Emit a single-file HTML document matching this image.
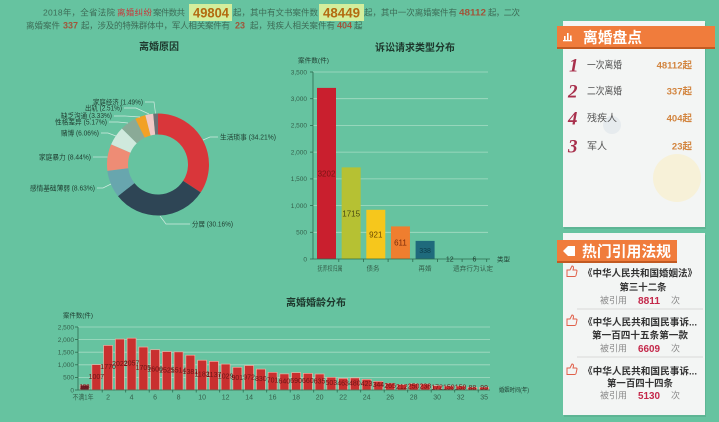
<!DOCTYPE html>
<html>
<head>
<meta charset="utf-8">
<style>
html,body{margin:0;padding:0;background:#66c3a0;}
svg{display:block;}
svg text{font-family:"Liberation Sans","Noto Sans CJK SC",sans-serif;}
.hd{font-size:8.5px;fill:#3d6d57;}
.tk{font-size:6.5px;fill:#35614c;}
.pl{font-size:7px;fill:#1f3d30;}
.bl{font-size:7px;fill:#6b1515;}
.ttl{font-size:10px;font-weight:bold;fill:#1d372c;}
.c2{font-size:9.5px;font-weight:bold;fill:#333;}
.cite{font-size:9px;fill:#8a8a8a;}
</style>
</head>
<body>
<svg width="719" height="422" viewBox="0 0 719 422" xmlns="http://www.w3.org/2000/svg">
<rect x="0" y="0" width="719" height="422" fill="#66c3a0"/>

<!-- Header text -->
<rect x="189" y="4" width="43" height="17" fill="#d3ee9c"/>
<rect x="319" y="4" width="45" height="17" fill="#d3ee9c"/>
<text class="hd" x="43" y="15.5" textLength="72" lengthAdjust="spacing">2018年，全省法院</text>
<text class="hd" x="117" y="15.5" textLength="35" lengthAdjust="spacing" style="fill:#c8383a">离婚纠纷</text>
<text class="hd" x="153" y="15.5" textLength="32" lengthAdjust="spacing">案件数共</text>
<text x="193" y="17.5" textLength="36" lengthAdjust="spacingAndGlyphs" style="font-size:14px;font-weight:bold;fill:#b36a10">49804</text>
<text class="hd" x="233" y="15.5" textLength="85" lengthAdjust="spacing">起，其中有文书案件数</text>
<text x="323" y="17.5" textLength="37" lengthAdjust="spacingAndGlyphs" style="font-size:14px;font-weight:bold;fill:#b36a10">48449</text>
<text class="hd" x="364" y="15.5" textLength="93" lengthAdjust="spacing">起，其中一次离婚案件有</text>
<text x="459" y="15.5" textLength="27" lengthAdjust="spacingAndGlyphs" style="font-size:9px;font-weight:bold;fill:#a0553a">48112</text>
<text class="hd" x="488" y="15.5" textLength="32" lengthAdjust="spacing">起，二次</text>

<text class="hd" x="26" y="28.5" textLength="34" lengthAdjust="spacing">离婚案件</text>
<text x="63" y="28.5" textLength="15" lengthAdjust="spacingAndGlyphs" style="font-size:9px;font-weight:bold;fill:#a0553a">337</text>
<text class="hd" x="81" y="28.5" textLength="149" lengthAdjust="spacing">起，涉及的特殊群体中，军人相关案件有</text>
<text x="235" y="28.5" textLength="10" lengthAdjust="spacingAndGlyphs" style="font-size:9px;font-weight:bold;fill:#a0553a">23</text>
<text class="hd" x="250" y="28.5" textLength="85" lengthAdjust="spacing">起，残疾人相关案件有</text>
<text x="337" y="28.5" textLength="15" lengthAdjust="spacingAndGlyphs" style="font-size:9px;font-weight:bold;fill:#a0553a">404</text>
<text class="hd" x="354" y="28.5" textLength="12" lengthAdjust="spacing">起。</text>

<!-- Pie chart -->
<text class="ttl" x="159" y="50" text-anchor="middle">离婚原因</text>
<g>
<path d="M158,113.5 A51,51 0 0 1 200.69,192.40 L183.11,180.91 A30,30 0 0 0 158,134.5 Z" fill="#d9363a"/>
<path d="M200.69,192.40 A51,51 0 0 1 117.96,196.09 L134.45,183.08 A30,30 0 0 0 183.11,180.91 Z" fill="#2e4555"/>
<path d="M117.96,196.09 A51,51 0 0 1 107.40,170.89 L128.24,168.26 A30,30 0 0 0 134.45,183.08 Z" fill="#68a6ae"/>
<path d="M107.40,170.89 A51,51 0 0 1 111.12,144.43 L130.42,152.69 A30,30 0 0 0 128.24,168.26 Z" fill="#ee8c75"/>
<path d="M111.12,144.43 A51,51 0 0 1 121.94,128.44 L136.79,143.29 A30,30 0 0 0 130.42,152.69 Z" fill="#cfe9dd"/>
<path d="M121.94,128.44 A51,51 0 0 1 135.33,118.81 L144.67,137.63 A30,30 0 0 0 136.79,143.29 Z" fill="#8aaa97"/>
<path d="M135.33,118.81 A51,51 0 0 1 145.32,115.10 L150.54,135.44 A30,30 0 0 0 144.67,137.63 Z" fill="#f2a126"/>
<path d="M145.32,115.10 A51,51 0 0 1 153.24,113.72 L155.20,134.63 A30,30 0 0 0 150.54,135.44 Z" fill="#f2c9c6"/>
<path d="M153.24,113.72 A51,51 0 0 1 158,113.5 L158,134.5 A30,30 0 0 0 155.20,134.63 Z" fill="#6e7074"/>
</g>
<g fill="none" stroke="#cfeadf" stroke-width="0.7">
<polyline points="203,140 210,137 218,137"/>
<polyline points="160,216 166,224 190,224"/>
<polyline points="111,184 103,188 97,188"/>
<polyline points="107.5,157 100,157 93,157"/>
<polyline points="116,136 108,133 101,133"/>
<polyline points="128,123 118,122 109,122"/>
<polyline points="140,117 125,116 114,116"/>
<polyline points="149,114 136,108 124,108"/>
<polyline points="155.5,113.5 154,102 145,102"/>
</g>
<text class="pl" x="220" y="139.5" textLength="56" lengthAdjust="spacingAndGlyphs">生活琐事 (34.21%)</text>
<text class="pl" x="192" y="226.5" textLength="41" lengthAdjust="spacingAndGlyphs">分居 (30.16%)</text>
<text class="pl" x="30" y="190.5" textLength="65" lengthAdjust="spacingAndGlyphs">感情基础薄弱 (8.63%)</text>
<text class="pl" x="39" y="159.5" textLength="52" lengthAdjust="spacingAndGlyphs">家庭暴力 (8.44%)</text>
<text class="pl" x="61" y="135.5" textLength="38" lengthAdjust="spacingAndGlyphs">赌博 (6.06%)</text>
<text class="pl" x="55" y="124.5" textLength="52" lengthAdjust="spacingAndGlyphs">性格差异 (5.17%)</text>
<text class="pl" x="61" y="118" textLength="51" lengthAdjust="spacingAndGlyphs">缺乏沟通 (3.33%)</text>
<text class="pl" x="85" y="110.5" textLength="37" lengthAdjust="spacingAndGlyphs">出轨 (2.51%)</text>
<text class="pl" x="93" y="104.5" textLength="50" lengthAdjust="spacingAndGlyphs">家庭经济 (1.49%)</text>

<!-- Top bar chart -->
<text class="ttl" x="415" y="51" text-anchor="middle">诉讼请求类型分布</text>
<text class="tk" x="298" y="62.5" textLength="31" lengthAdjust="spacingAndGlyphs" style="fill:#1f3d30">案件数(件)</text>
<g stroke="#a6dcc4" stroke-width="0.8">
<line x1="313" y1="72" x2="488" y2="72"/>
<line x1="313" y1="98.7" x2="488" y2="98.7"/>
<line x1="313" y1="125.4" x2="488" y2="125.4"/>
<line x1="313" y1="152.1" x2="488" y2="152.1"/>
<line x1="313" y1="178.9" x2="488" y2="178.9"/>
<line x1="313" y1="205.6" x2="488" y2="205.6"/>
<line x1="313" y1="232.3" x2="488" y2="232.3"/>
</g>
<g class="tk" text-anchor="end">
<text x="307" y="74.3">3,500</text>
<text x="307" y="101">3,000</text>
<text x="307" y="127.7">2,500</text>
<text x="307" y="154.4">2,000</text>
<text x="307" y="181.2">1,500</text>
<text x="307" y="207.9">1,000</text>
<text x="307" y="234.6">500</text>
<text x="307" y="261.3">0</text>
</g>
<rect x="317" y="87.9" width="19" height="171.1" fill="#c91f2e"/>
<rect x="341.65" y="167.4" width="19" height="91.6" fill="#b6c133"/>
<rect x="366.3" y="209.8" width="19" height="49.2" fill="#f6c71c"/>
<rect x="390.95" y="226.4" width="19" height="32.6" fill="#ef7e2f"/>
<rect x="415.6" y="240.9" width="19" height="18.1" fill="#1f6a7c"/>
<g stroke="#2c6a4e" stroke-width="0.8">
<line x1="313" y1="72" x2="313" y2="259"/>
<line x1="313" y1="259" x2="490" y2="259"/>
<line x1="310" y1="72" x2="313" y2="72"/>
<line x1="310" y1="98.7" x2="313" y2="98.7"/>
<line x1="310" y1="125.4" x2="313" y2="125.4"/>
<line x1="310" y1="152.1" x2="313" y2="152.1"/>
<line x1="310" y1="178.9" x2="313" y2="178.9"/>
<line x1="310" y1="205.6" x2="313" y2="205.6"/>
<line x1="310" y1="232.3" x2="313" y2="232.3"/>
<line x1="310" y1="259" x2="313" y2="259"/>
<line x1="338.8" y1="259" x2="338.8" y2="262"/>
<line x1="363.5" y1="259" x2="363.5" y2="262"/>
<line x1="388.1" y1="259" x2="388.1" y2="262"/>
<line x1="412.8" y1="259" x2="412.8" y2="262"/>
<line x1="437.4" y1="259" x2="437.4" y2="262"/>
<line x1="462.1" y1="259" x2="462.1" y2="262"/>
<line x1="486.7" y1="259" x2="486.7" y2="262"/>
</g>
<g style="font-size:8px" text-anchor="middle">
<text x="326.5" y="176.5" fill="#7a1414">3202</text>
<text x="351.15" y="216.5" fill="#4a4a12">1715</text>
<text x="375.8" y="237.5" fill="#6a4a00">921</text>
<text x="400.45" y="245.5" fill="#7a2a08">611</text>
<text x="425.1" y="253" fill="#0b3a48" style="font-size:7px">338</text>
<text x="449.75" y="261.5" fill="#1f3d30" style="font-size:7px">12</text>
<text x="474.4" y="261.5" fill="#1f3d30" style="font-size:7px">6</text>
</g>
<g class="tk" text-anchor="middle">
<text x="330" y="270.5" textLength="25" lengthAdjust="spacingAndGlyphs">抚养权归属</text>
<text x="373" y="270.5">债务</text>
<text x="425" y="270.5">再婚</text>
<text x="473" y="270.5" textLength="40" lengthAdjust="spacingAndGlyphs">遗弃行为认定</text>
</g>
<text class="tk" x="497" y="261.5" style="fill:#1f3d30">类型</text>

<!-- Bottom bar chart -->
<text class="ttl" x="286" y="306">离婚婚龄分布</text>
<text class="tk" x="63" y="317.5" textLength="30" lengthAdjust="spacingAndGlyphs" style="fill:#1f3d30">案件数(件)</text>
<g stroke="#a6dcc4" stroke-width="0.8">
<line x1="78" y1="327" x2="490" y2="327"/>
<line x1="78" y1="339.6" x2="490" y2="339.6"/>
<line x1="78" y1="352.2" x2="490" y2="352.2"/>
<line x1="78" y1="364.8" x2="490" y2="364.8"/>
<line x1="78" y1="377.4" x2="490" y2="377.4"/>
</g>
<g class="tk" text-anchor="end">
<text x="74" y="329.3">2,500</text>
<text x="74" y="341.9">2,000</text>
<text x="74" y="354.5">1,500</text>
<text x="74" y="367.1">1,000</text>
<text x="74" y="379.7">500</text>
<text x="74" y="392.3">0</text>
</g>
<g fill="#c9302f" stroke="#efb0a2" stroke-width="0.7">
<rect x="80.1" y="385.01" width="9" height="4.99" fill="#6e1e2c"/>
<rect x="91.85" y="364.62" width="9" height="25.38"/>
<rect x="103.6" y="345.40" width="9" height="44.60"/>
<rect x="115.35" y="339.05" width="9" height="50.95"/>
<rect x="127.1" y="338.16" width="9" height="51.84"/>
<rect x="138.85" y="347.03" width="9" height="42.97"/>
<rect x="150.6" y="349.68" width="9" height="40.32"/>
<rect x="162.35" y="351.57" width="9" height="38.43"/>
<rect x="174.1" y="351.85" width="9" height="38.15"/>
<rect x="185.85" y="355.20" width="9" height="34.80"/>
<rect x="197.6" y="360.21" width="9" height="29.79"/>
<rect x="209.35" y="361.35" width="9" height="28.65"/>
<rect x="221.1" y="364.07" width="9" height="25.93"/>
<rect x="232.85" y="367.29" width="9" height="22.71"/>
<rect x="244.6" y="365.51" width="9" height="24.49"/>
<rect x="256.35" y="369.08" width="9" height="20.92"/>
<rect x="268.1" y="372.33" width="9" height="17.67"/>
<rect x="279.85" y="373.87" width="9" height="16.13"/>
<rect x="291.6" y="372.61" width="9" height="17.39"/>
<rect x="303.35" y="373.37" width="9" height="16.63"/>
<rect x="315.1" y="374.00" width="9" height="16.00"/>
<rect x="326.85" y="377.32" width="9" height="12.68"/>
<rect x="338.6" y="378.33" width="9" height="11.67"/>
<rect x="350.35" y="377.90" width="9" height="12.10"/>
<rect x="362.1" y="379.34" width="9" height="10.66"/>
<rect x="373.85" y="381.33" width="9" height="8.67"/>
<rect x="385.6" y="383.32" width="9" height="6.68"/>
<rect x="397.35" y="384.66" width="9" height="5.34"/>
<rect x="409.1" y="383.70" width="9" height="6.30"/>
<rect x="420.85" y="384.00" width="9" height="6.00"/>
<rect x="432.6" y="385.67" width="9" height="4.33"/>
<rect x="444.35" y="385.99" width="9" height="4.01"/>
<rect x="456.1" y="385.99" width="9" height="4.01"/>
<rect x="467.85" y="387.33" width="9" height="2.67"/>
<rect x="479.6" y="387.33" width="9" height="2.67"/>
</g>
<g class="bl" text-anchor="middle" dominant-baseline="central">
<text x="84.6" y="387.5" style="font-size:6px">198</text>
<text x="96.35" y="377.3">1007</text>
<text x="108.1" y="367.7">1770</text>
<text x="119.85" y="364.5">2022</text>
<text x="131.6" y="364.1">2057</text>
<text x="143.35" y="368.5">1705</text>
<text x="155.1" y="369.8">1600</text>
<text x="166.85" y="370.8">1525</text>
<text x="178.6" y="370.9">1514</text>
<text x="190.35" y="372.6">1381</text>
<text x="202.1" y="375.1">1182</text>
<text x="213.85" y="375.7">1137</text>
<text x="225.6" y="377">1029</text>
<text x="237.35" y="378.6">901</text>
<text x="249.1" y="377.8">972</text>
<text x="260.85" y="379.5">830</text>
<text x="272.6" y="381.2">701</text>
<text x="284.35" y="381.9">640</text>
<text x="296.1" y="381.3">690</text>
<text x="307.85" y="381.7">660</text>
<text x="319.6" y="382">635</text>
<text x="331.35" y="383.7">503</text>
<text x="343.1" y="384.2">463</text>
<text x="354.85" y="384">480</text>
<text x="366.6" y="384.7">423</text>
<text x="378.35" y="385.7">344</text>
<text x="390.1" y="386.7">265</text>
<text x="401.85" y="387.3">212</text>
<text x="413.6" y="386.9">250</text>
<text x="425.35" y="387">238</text>
<text x="437.1" y="387.8">172</text>
<text x="448.85" y="388">159</text>
<text x="460.6" y="388">159</text>
<text x="472.35" y="388.7">88</text>
<text x="484.1" y="388.7">99</text>
</g>
<g stroke="#2c6a4e" stroke-width="0.8">
<line x1="78" y1="327" x2="78" y2="390"/>
<line x1="78" y1="390" x2="490" y2="390"/>
<line x1="75" y1="327" x2="78" y2="327"/>
<line x1="75" y1="339.6" x2="78" y2="339.6"/>
<line x1="75" y1="352.2" x2="78" y2="352.2"/>
<line x1="75" y1="364.8" x2="78" y2="364.8"/>
<line x1="75" y1="377.4" x2="78" y2="377.4"/>
<line x1="75" y1="390" x2="78" y2="390"/>
<line x1="102.2" y1="390" x2="102.2" y2="392.5"/>
<line x1="125.7" y1="390" x2="125.7" y2="392.5"/>
<line x1="149.2" y1="390" x2="149.2" y2="392.5"/>
<line x1="172.7" y1="390" x2="172.7" y2="392.5"/>
<line x1="196.2" y1="390" x2="196.2" y2="392.5"/>
<line x1="219.7" y1="390" x2="219.7" y2="392.5"/>
<line x1="243.2" y1="390" x2="243.2" y2="392.5"/>
<line x1="266.7" y1="390" x2="266.7" y2="392.5"/>
<line x1="290.2" y1="390" x2="290.2" y2="392.5"/>
<line x1="313.7" y1="390" x2="313.7" y2="392.5"/>
<line x1="337.2" y1="390" x2="337.2" y2="392.5"/>
<line x1="360.7" y1="390" x2="360.7" y2="392.5"/>
<line x1="384.2" y1="390" x2="384.2" y2="392.5"/>
<line x1="407.7" y1="390" x2="407.7" y2="392.5"/>
<line x1="431.2" y1="390" x2="431.2" y2="392.5"/>
<line x1="454.7" y1="390" x2="454.7" y2="392.5"/>
<line x1="478.2" y1="390" x2="478.2" y2="392.5"/>
</g>
<g class="tk" text-anchor="middle" style="font-size:7px">
<text x="83" y="399.5" textLength="21" lengthAdjust="spacingAndGlyphs">不满1年</text>
<text x="108.1" y="399.5">2</text>
<text x="131.6" y="399.5">4</text>
<text x="155.1" y="399.5">6</text>
<text x="178.6" y="399.5">8</text>
<text x="202.1" y="399.5">10</text>
<text x="225.6" y="399.5">12</text>
<text x="249.1" y="399.5">14</text>
<text x="272.6" y="399.5">16</text>
<text x="296.1" y="399.5">18</text>
<text x="319.6" y="399.5">20</text>
<text x="343.1" y="399.5">22</text>
<text x="366.6" y="399.5">24</text>
<text x="390.1" y="399.5">26</text>
<text x="413.6" y="399.5">28</text>
<text x="437.1" y="399.5">30</text>
<text x="460.6" y="399.5">32</text>
<text x="484.1" y="399.5">35</text>
</g>
<text class="tk" x="499" y="392" textLength="30" lengthAdjust="spacingAndGlyphs" style="fill:#1f3d30;font-size:6px">婚姻时间(年)</text>

<!-- Right card 1 -->
<rect x="564" y="23" width="142" height="206" fill="#4d9c7d" opacity="0.35"/>
<rect x="563" y="21" width="142" height="206" fill="#f3f5f4"/>
<circle cx="677" cy="178" r="24" fill="#f7f1d8"/>
<circle cx="612" cy="125" r="9" fill="#e6ebee"/>
<rect x="557" y="27" width="158" height="22" fill="#c25a22"/>
<rect x="557" y="26" width="158" height="21" fill="#f07c3c"/>
<g fill="#ffffff">
<rect x="563" y="40" width="9" height="1.3"/>
<rect x="564" y="36" width="1.6" height="4"/>
<rect x="567" y="33" width="1.6" height="7"/>
<rect x="570" y="35.5" width="1.6" height="4.5"/>
</g>
<text x="583" y="42.5" textLength="59" lengthAdjust="spacingAndGlyphs" style="font-size:15px;font-weight:bold;fill:#ffffff">离婚盘点</text>
<g style="font-family:'Liberation Serif',serif;font-style:italic;font-weight:bold;font-size:19px;fill:#a8304c">
<text x="569" y="71.5" style="font-family:'Liberation Serif',serif">1</text>
<text x="568" y="97.5" style="font-family:'Liberation Serif',serif">2</text>
<text x="568" y="124.5" style="font-family:'Liberation Serif',serif">4</text>
<text x="568" y="152.5" style="font-family:'Liberation Serif',serif">3</text>
</g>
<g style="font-size:10px;fill:#555">
<text x="587" y="68.5" textLength="35" lengthAdjust="spacingAndGlyphs">一次离婚</text>
<text x="587" y="94.5" textLength="35" lengthAdjust="spacingAndGlyphs">二次离婚</text>
<text x="587" y="121.5">残疾人</text>
<text x="587" y="149.5">军人</text>
</g>
<g style="font-size:9.5px;font-weight:bold;fill:#d2843e" text-anchor="end">
<text x="692" y="68.5">48112起</text>
<text x="692" y="94.5">337起</text>
<text x="692" y="121.5">404起</text>
<text x="692" y="149.5">23起</text>
</g>

<!-- Right card 2 -->
<rect x="564" y="235" width="142" height="182" fill="#4d9c7d" opacity="0.35"/>
<rect x="563" y="233" width="142" height="182" fill="#f3f5f4"/>
<rect x="557" y="241" width="120" height="22" fill="#c25a22"/>
<rect x="557" y="240" width="120" height="21" fill="#f07c3c"/>
<path d="M563,251 L568,246 L575,246 L575,256 L568,256 Z" fill="#ffffff"/>
<text x="582" y="256.5" textLength="89" lengthAdjust="spacingAndGlyphs" style="font-size:15px;font-weight:bold;fill:#ffffff">热门引用法规</text>

<g fill="none" stroke="#e0604a" stroke-width="1">
<path d="M567,270 h3 l2,-4 q1.5,0 1.5,2 l-0.5,2 h3 q1,0 1,1 l-1,4.5 q-0.3,1 -1.3,1 h-4.7 l-3,0 z"/>
<path d="M567,319 h3 l2,-4 q1.5,0 1.5,2 l-0.5,2 h3 q1,0 1,1 l-1,4.5 q-0.3,1 -1.3,1 h-4.7 l-3,0 z"/>
<path d="M567,368 h3 l2,-4 q1.5,0 1.5,2 l-0.5,2 h3 q1,0 1,1 l-1,4.5 q-0.3,1 -1.3,1 h-4.7 l-3,0 z"/>
</g>

<text class="c2" x="583" y="276.5" textLength="114" lengthAdjust="spacingAndGlyphs">《中华人民共和国婚姻法》</text>
<text class="c2" x="643" y="290.5" text-anchor="middle" textLength="47" lengthAdjust="spacingAndGlyphs">第三十二条</text>
<text class="cite" x="600" y="303.5" textLength="27" lengthAdjust="spacingAndGlyphs">被引用</text>
<text x="638" y="303.8" textLength="22" lengthAdjust="spacingAndGlyphs" style="font-size:10px;font-weight:bold;fill:#c4284a">8811</text>
<text class="cite" x="671" y="303.5">次</text>
<line x1="577" y1="309" x2="703" y2="309" stroke="#cfcfcf" stroke-width="0.8"/>

<text class="c2" x="583" y="325.5" textLength="114" lengthAdjust="spacingAndGlyphs">《中华人民共和国民事诉...</text>
<text class="c2" x="640" y="338.5" text-anchor="middle" textLength="96" lengthAdjust="spacingAndGlyphs">第一百四十五条第一款</text>
<text class="cite" x="600" y="351.5" textLength="27" lengthAdjust="spacingAndGlyphs">被引用</text>
<text x="638" y="351.8" textLength="22" lengthAdjust="spacingAndGlyphs" style="font-size:10px;font-weight:bold;fill:#c4284a">6609</text>
<text class="cite" x="671" y="351.5">次</text>
<line x1="577" y1="357" x2="703" y2="357" stroke="#cfcfcf" stroke-width="0.8"/>

<text class="c2" x="583" y="374.5" textLength="114" lengthAdjust="spacingAndGlyphs">《中华人民共和国民事诉...</text>
<text class="c2" x="640" y="386.5" text-anchor="middle" textLength="66" lengthAdjust="spacingAndGlyphs">第一百四十四条</text>
<text class="cite" x="600" y="398.5" textLength="27" lengthAdjust="spacingAndGlyphs">被引用</text>
<text x="638" y="398.8" textLength="22" lengthAdjust="spacingAndGlyphs" style="font-size:10px;font-weight:bold;fill:#c4284a">5130</text>
<text class="cite" x="671" y="398.5">次</text>
</svg>
</body>
</html>
